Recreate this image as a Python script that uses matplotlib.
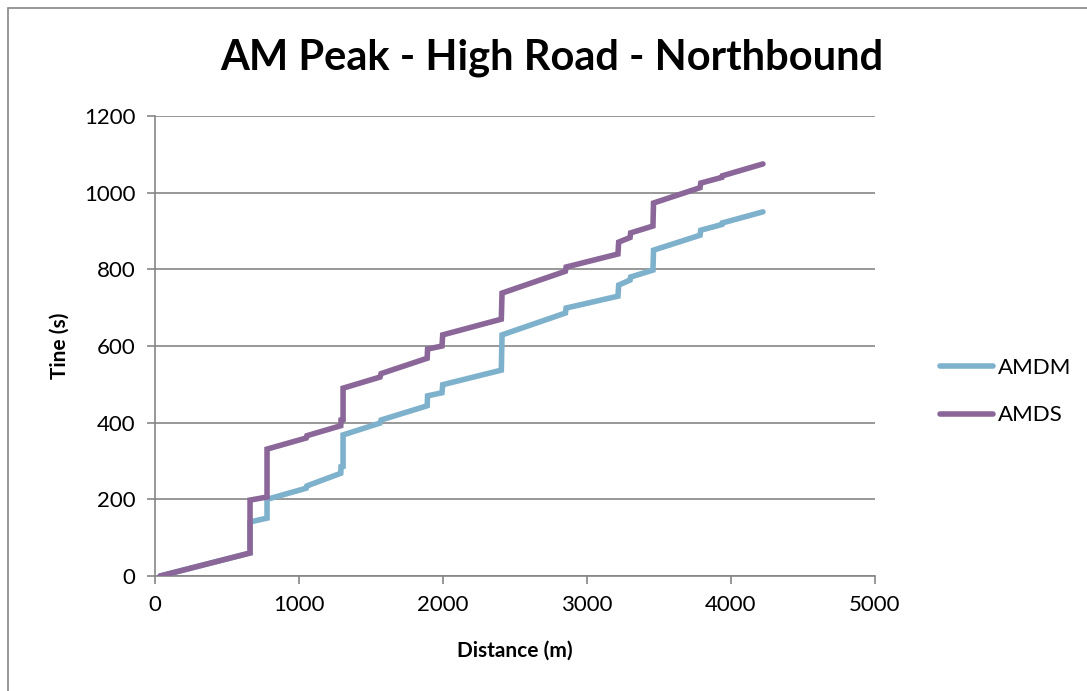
import matplotlib
matplotlib.use('Agg')
import matplotlib.pyplot as plt
from matplotlib.patches import Rectangle

plt.rcParams['font.family'] = ['Lato', 'DejaVu Sans']

# distance (m) and time (s) vertices
amds_dist = [35, 660, 660, 778, 778, 1050, 1055, 1290, 1292, 1306, 1306, 1563, 1570,
             1890, 1893, 1993, 1998, 2405, 2410, 2850, 2855, 3215, 3220, 3299, 3303,
             3458, 3462, 3785, 3790, 3937, 3940, 4222]
amds_time = [0, 60, 198, 206, 331, 360, 366, 392, 407, 408, 490, 519, 528,
             568, 592, 600, 629, 670, 738, 795, 806, 840, 871, 883, 895,
             913, 973, 1013, 1025, 1040, 1044, 1075]

amdm_dist = [35, 660, 660, 778, 778, 1050, 1055, 1290, 1292, 1306, 1306, 1563, 1570,
             1890, 1893, 1993, 1998, 2405, 2410, 2850, 2855, 3215, 3220, 3299, 3303,
             3458, 3462, 3785, 3790, 3937, 3940, 4222]
amdm_time = [0, 60, 141, 151, 200, 229, 235, 268, 285, 286, 368, 399, 407,
             444, 470, 478, 499, 537, 629, 686, 699, 730, 759, 772, 780,
             798, 850, 889, 902, 917, 921, 950]

x_ticks = [0, 1000, 2000, 3000, 4000, 5000]
y_ticks = [0, 200, 400, 600, 800, 1000, 1200]

grey = '#868686'

fig = plt.figure(figsize=(10.87, 6.91), dpi=100)
ax = fig.add_axes([155 / 1087, 1 - 576 / 691, 720 / 1087, 460 / 691])

ax.plot(amdm_dist, amdm_time, color='#7EB1CC', lw=4.0, label='AMDM',
        solid_joinstyle='miter', solid_capstyle='round', zorder=3)
ax.plot(amds_dist, amds_time, color='#8B6699', lw=4.0, label='AMDS',
        solid_joinstyle='miter', solid_capstyle='round', zorder=4)

ax.set_xlim(0, 5000)
ax.set_ylim(0, 1200)
ax.set_xticks(x_ticks)
ax.set_yticks(y_ticks)
ax.yaxis.grid(True, color=grey, lw=1.2)
ax.set_axisbelow(True)
for s in ['top', 'right']:
    ax.spines[s].set_visible(False)
for s in ['left', 'bottom']:
    ax.spines[s].set_color(grey)
    ax.spines[s].set_linewidth(1.2)
ax.tick_params(colors=grey, labelcolor='black', labelsize=16, length=6, width=1.2, pad=8)

ax.set_xlabel('Distance (m)', fontsize=15, fontweight='bold', labelpad=18)
ax.set_ylabel('Tine (s)', fontsize=15, fontweight='bold')
ax.yaxis.set_label_coords(-0.118, 0.5)
fig.text(552 / 1087, 1 - 58 / 691, 'AM Peak - High Road - Northbound', ha='center', va='center',
         fontsize=30, fontweight='bold')

ax.legend(loc='center left', bbox_to_anchor=(785 / 720, 0.401), frameon=False, fontsize=16,
          handlelength=2.4, labelspacing=1.25, handletextpad=0.2, borderpad=0, borderaxespad=0)

fig.patches.append(Rectangle((8 / 1087, -0.1), 1.2, 1.1 - 8 / 691, transform=fig.transFigure,
                             fill=False, edgecolor=grey, lw=1.2))

fig.savefig('out.png', dpi=100)
